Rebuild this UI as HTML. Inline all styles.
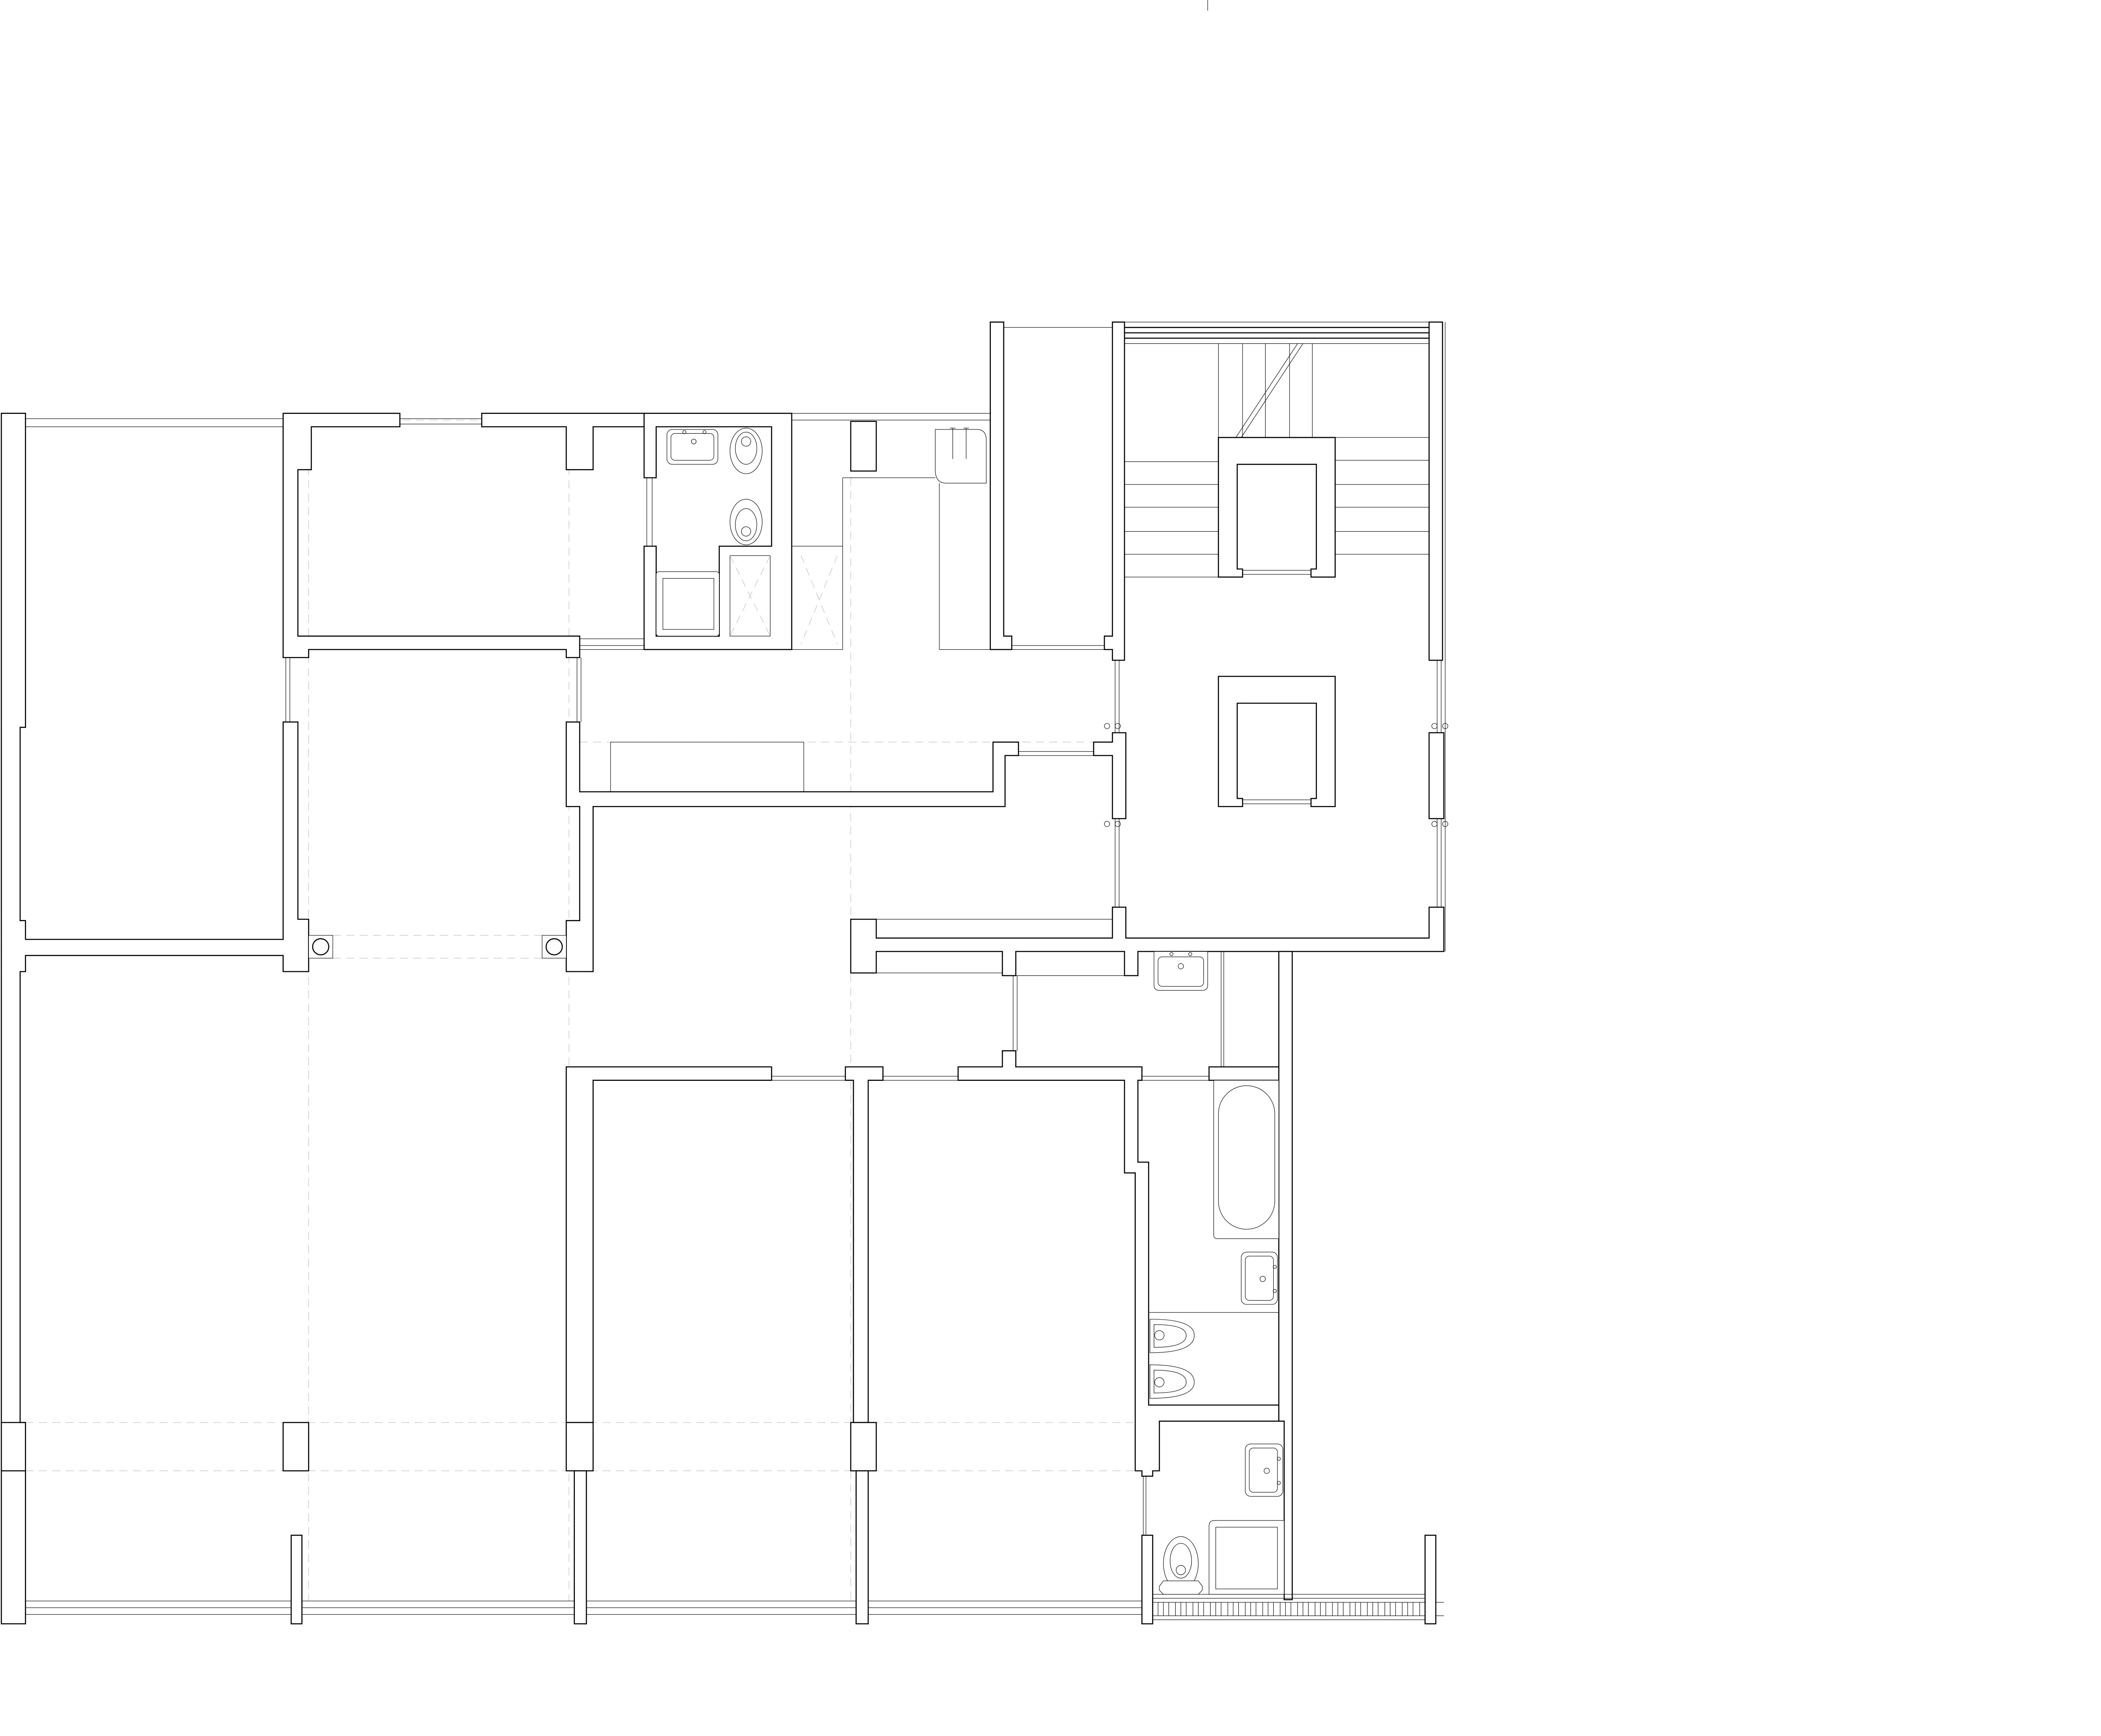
<!DOCTYPE html>
<html><head><meta charset="utf-8"><style>
html,body{margin:0;padding:0;background:#fff;}
svg{display:block;}
.w{fill:#fff;stroke:#000;stroke-width:0.8;stroke-linejoin:miter;}
.t{fill:none;stroke:#000;stroke-width:0.35;}
.k{fill:none;stroke:#000;stroke-width:0.8;}
.d{fill:none;stroke:#bbb;stroke-width:0.35;stroke-dasharray:6 4;}
.f{fill:#fff;stroke:#000;stroke-width:0.35;}
</style></head><body>
<svg width="5333" height="4131" viewBox="0 0 1670 1293.6" preserveAspectRatio="none" xmlns="http://www.w3.org/2000/svg">
<rect x="0" y="0" width="1670" height="1294" fill="#fff"/>
<!-- dashed grid -->
<path class="d" d="M230,318V1193 M424,318V1193 M634,356V1193 M19,1060H852 M19,1096H852 M432,553H829 M230,313H480 M248,697H404 M248,714H404"/>
<!-- top windows -->
<path class="t" d="M19,312H211 M19,318H211 M298,312H359 M298,316H359 M590,308H738 M590,313H738 M432,476H480 M432,481H480 M213,490V538 M216,490V538 M430,490V538 M433,490V538"/>
<!-- bottom windows -->
<path class="t" d="M19,1193H852 M19,1198H852 M19,1203H852"/>
<!-- left exterior -->
<path class="w" d="M1,308H19V542H15V686H19V700H211V538H222V685H230V724H211V712H19V724H15V1060H19V1210H1Z"/>
<path class="k" d="M1,1060H19 M1,1096H19"/>
<!-- top room walls -->
<path class="w" d="M211,308H298V318H232V350H222V474H432V490H422V484H230V490H211Z"/>
<path class="w" d="M359,308H480V318H442V350H422V318H359Z"/>
<!-- bathroom top -->
<path class="w" d="M480,308H590V484H480V407H489V474H536V407H575V318H489V356H480Z"/>
<rect class="f" x="544" y="414" width="30" height="60"/>
<path class="d" d="M544,414L574,474M574,414L544,474"/>
<path class="t" d="M482,356V407 M486,356V407"/>
<rect class="f" x="497" y="320" width="38" height="26" rx="4"/>
<rect class="f" x="500" y="323" width="32" height="20" rx="3"/>
<circle class="t" cx="517" cy="329" r="1.8"/><circle class="t" cx="510" cy="322" r="1.2"/><circle class="t" cx="525" cy="322" r="1.2"/>
<ellipse class="f" cx="556" cy="336" rx="12" ry="17"/><ellipse class="t" cx="556" cy="334" rx="8" ry="12"/><circle class="t" cx="556" cy="329" r="3.5"/>
<ellipse class="f" cx="556" cy="389" rx="12" ry="17"/><ellipse class="t" cx="556" cy="391" rx="8" ry="12"/><circle class="t" cx="556" cy="396" r="3.5"/>
<rect class="f" x="489" y="426" width="47" height="48" rx="2"/>
<rect class="t" x="494" y="431" width="38" height="38"/>
<!-- kitchen area -->
<rect class="w" x="634" y="314" width="19" height="37"/>
<path class="t" d="M628,356V484 M628,356H697 M590,407H628 M700,360V484 M700,484H738 M432,484H628"/>
<path class="d" d="M597,414L624,480M624,414L597,480"/>
<path class="f" d="M697,320H728Q735,320 735,328V360H705Q697,360 697,350Z"/>
<path class="t" d="M710,319V342 M720,319V342 M708,319H712 M718,319H722"/>
<rect class="t" x="455" y="553" width="144" height="37"/>
<!-- corridor wall -->
<path class="w" d="M422,538H432V590H740V553H759V563H749V601H442V724H422V686H432V601H422Z"/>
<path class="t" d="M759,560H815 M759,563H815"/>
<!-- shaft -->
<path class="w" d="M738,240H748V474H754V484H738Z"/>
<path class="w" d="M829,240H838V492H829V484H823V474H829Z"/>
<path class="t" d="M748,244H829 M754,481H823 M754,484H823 M838,240H1065 M838,256H1065"/>
<path class="k" d="M838,244H1065 M838,248H1065 M838,252H1065"/>
<rect class="w" x="1065" y="240" width="10" height="252"/>
<path class="t" d="M1077,240V709"/>
<!-- stair -->
<path class="t" d="M908,256V326 M926,256V326 M943,256V326 M961,256V326 M978,256V326"/>
<path class="t" d="M921,326L967,256 M925,326L971,256"/>
<path class="t" d="M838,344H908 M838,361H908 M838,378H908 M838,396H908 M838,413H908 M838,430H908 M995,326H1065 M995,343H1065 M995,361H1065 M995,378H1065 M995,396H1065 M995,413H1065"/>
<path class="w" d="M908,326H995V430H977V424H981V346H922V424H926V430H908Z"/>
<path class="t" d="M926,425H977 M926,428H977"/>
<path class="w" d="M908,504H995V601H977V595H981V524H922V595H926V601H908Z"/>
<path class="t" d="M926,596H977 M926,599H977"/>
<!-- stair hall side walls -->
<path class="w" d="M829,546H839V610H829V563H815V553H829Z"/>
<rect class="w" x="1065" y="546" width="11" height="64"/>
<path class="t" d="M831,492V546 M834,492V546 M831,610V676 M834,610V676 M1071,492V546 M1074,492V546 M1071,610V676 M1074,610V676"/>
<circle class="t" cx="825" cy="541" r="2"/><circle class="t" cx="833" cy="541" r="2"/>
<circle class="t" cx="1069" cy="541" r="2"/><circle class="t" cx="1077" cy="541" r="2"/>
<circle class="t" cx="825" cy="614" r="2"/><circle class="t" cx="833" cy="614" r="2"/>
<circle class="t" cx="1069" cy="614" r="2"/><circle class="t" cx="1077" cy="614" r="2"/>
<!-- south corridor wall -->
<path class="w" d="M634,685H653V699H829V676H839V699H1065V676H1076V709H848V727H838V709H757V727H747V709H653V725H634Z"/>
<path class="t" d="M653,685H829 M653,725H747 M757,727H838 M963,709H1076 M910,709V795 M912,709V795 M575,802H630 M575,805H630 M658,802H714 M658,805H714 M851,802H901 M851,805H901 M755,727V783 M758,727V783"/>
<!-- lower walls -->
<path class="w" d="M422,795H575V805H442V1060H422Z"/>
<rect class="w" x="422" y="1060" width="20" height="36"/>
<rect class="w" x="428" y="1096" width="9" height="114"/>
<path class="w" d="M630,795H658V805H647V1060H636V805H630Z"/>
<rect class="w" x="634" y="1060" width="19" height="36"/>
<rect class="w" x="638" y="1096" width="9" height="114"/>
<path class="w" d="M714,795H747V783H757V795H851V805H848V866H856V1047H953V1059H864V1096H859V1100H851V1096H846V874H838V805H714Z"/>
<rect class="w" x="901" y="795" width="52" height="10"/>
<path class="w" d="M953,709H963V1192H957V1059H953Z"/>
<rect class="w" x="851" y="1144" width="8" height="66"/>
<path class="t" d="M852,1100V1144 M854,1100V1144"/>
<rect class="w" x="1062" y="1144" width="8" height="66"/>
<path class="t" d="M859,1188H1062 M859,1191H1062 M859,1194H1062 M859,1204H1062 M859,1207H1062 M1070,1194H1076 M1070,1204H1076"/>
<path class="t" d="M863,1194V1204 M867,1194V1204 M871,1194V1204 M876,1194V1204 M880,1194V1204 M884,1194V1204 M889,1194V1204 M893,1194V1204 M897,1194V1204 M902,1194V1204 M906,1194V1204 M910,1194V1204 M915,1194V1204 M919,1194V1204 M923,1194V1204 M928,1194V1204 M932,1194V1204 M936,1194V1204 M941,1194V1204 M945,1194V1204 M949,1194V1204 M954,1194V1204 M958,1194V1204 M962,1194V1204 M967,1194V1204 M971,1194V1204 M975,1194V1204 M980,1194V1204 M984,1194V1204 M988,1194V1204 M993,1194V1204 M997,1194V1204 M1001,1194V1204 M1006,1194V1204 M1010,1194V1204 M1014,1194V1204 M1019,1194V1204 M1023,1194V1204 M1027,1194V1204 M1032,1194V1204 M1036,1194V1204 M1040,1194V1204 M1045,1194V1204 M1049,1194V1204 M1053,1194V1204 M1058,1194V1204"/>
<!-- bath fixtures -->
<path class="f" d="M904.5,805H953V923H907Q904.5,923 904.5,920Z"/>
<rect class="t" x="908" y="809" width="42" height="107" rx="21"/>
<path class="t" d="M856,978H953"/>
<rect class="f" x="925" y="933" width="27" height="39" rx="4"/>
<rect class="t" x="928" y="936" width="21" height="33" rx="3"/>
<circle class="t" cx="941" cy="953" r="2"/><circle class="t" cx="950" cy="944" r="1.2"/><circle class="t" cx="950" cy="962" r="1.2"/>
<path class="f" d="M857,983Q890,983 890,995Q890,1008 857,1008Z"/><path class="t" d="M860,987Q884,987 884,995Q884,1004 860,1004Z"/><circle class="t" cx="864" cy="995" r="3.5"/>
<path class="f" d="M857,1017Q890,1017 890,1030Q890,1042 857,1042Z"/><path class="t" d="M860,1021Q884,1021 884,1030Q884,1038 860,1038Z"/><circle class="t" cx="864" cy="1030" r="3.5"/>
<rect class="f" x="928" y="1076" width="28" height="39" rx="4"/>
<rect class="t" x="931" y="1079" width="21" height="33" rx="3"/>
<circle class="t" cx="944" cy="1096" r="2"/><circle class="t" cx="953" cy="1087" r="1.2"/><circle class="t" cx="953" cy="1105" r="1.2"/>
<path class="f" d="M901,1137Q901,1133 905,1133H957V1188H901Z"/>
<rect class="t" x="906" y="1138" width="46" height="46"/>
<ellipse class="f" cx="880" cy="1165" rx="13" ry="20"/><ellipse class="t" cx="880" cy="1163" rx="8" ry="13"/><circle class="t" cx="880" cy="1170" r="3.5"/>
<path class="f" d="M867,1178H893L896,1182V1185L893,1188H867L864,1185V1182Z"/>
<!-- corridor bathroom sink -->
<path class="f" d="M860,709H900V734Q900,738 896,738H864Q860,738 860,734Z"/>
<rect class="t" x="863" y="713" width="34" height="22" rx="3"/>
<circle class="t" cx="880" cy="720" r="2"/><circle class="t" cx="873" cy="711" r="1.2"/><circle class="t" cx="887" cy="711" r="1.2"/>
<!-- columns -->
<rect class="f" x="230" y="697" width="18" height="17"/><circle class="k" cx="239" cy="705.5" r="6"/>
<rect class="f" x="404" y="697" width="18" height="17"/><circle class="k" cx="413" cy="705.5" r="6"/>
<!-- piers lower left -->
<rect class="w" x="211" y="1060" width="19" height="36"/>
<rect class="w" x="217" y="1144" width="8" height="66"/>
<path class="t" d="M900,0V8 M1660,428H1670"/>
</svg>
</body></html>
